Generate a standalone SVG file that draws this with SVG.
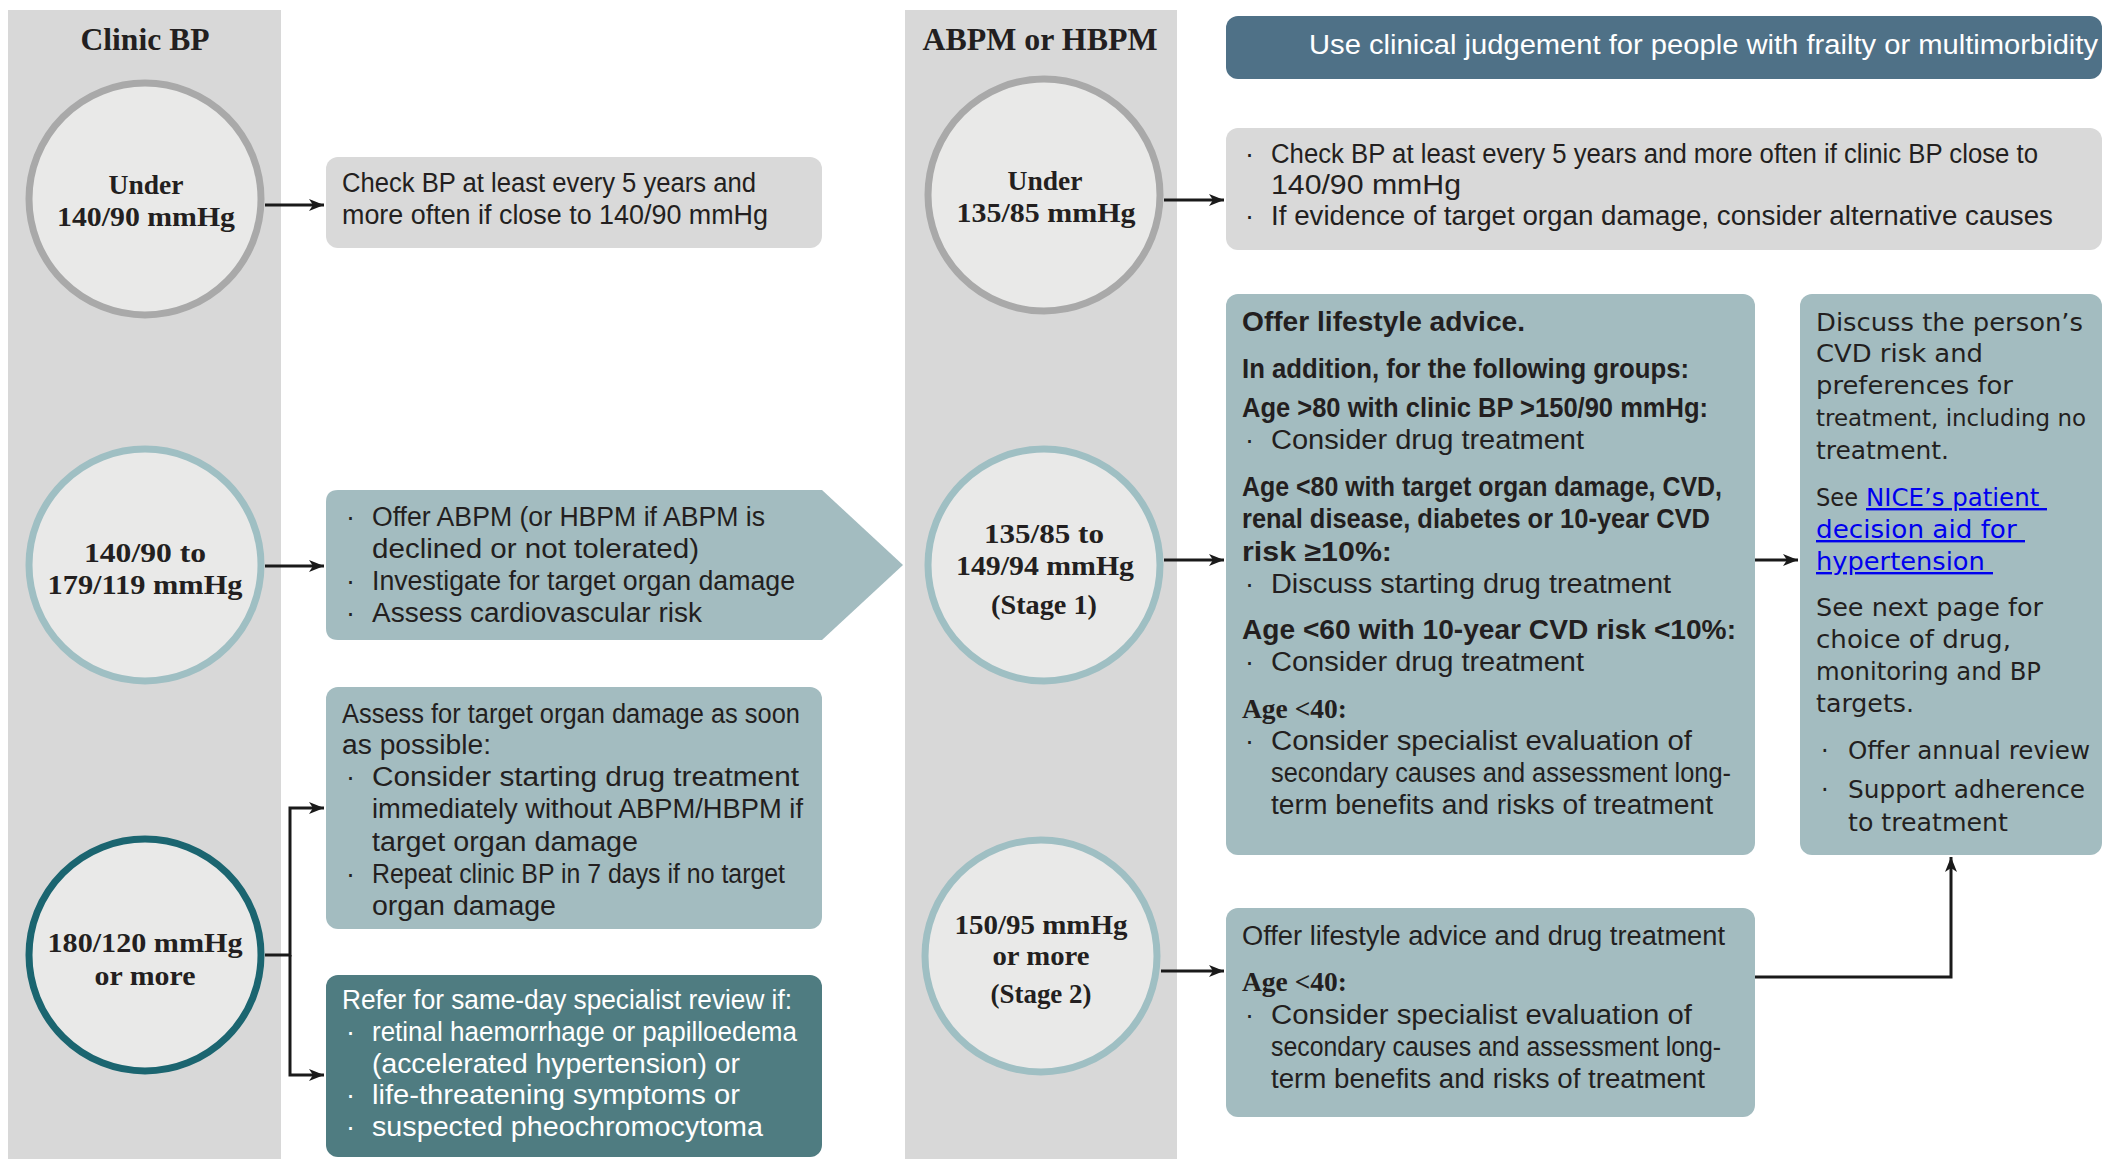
<svg xmlns="http://www.w3.org/2000/svg" width="2105" height="1159" viewBox="0 0 2105 1159">
<style>
.band{fill:#d8d8d8}
.cf{fill:#e9e9e8;stroke-width:7}
.cg{stroke:#a9a9a9}
.ct{stroke:#9fbfc3}
.cd{stroke:#1b6570}
.bg{fill:#d9d9d9}
.bt{fill:#a3bcc0}
.bd{fill:#4f7c81}
.bs{fill:#4f7187}
text{fill:#231f20}
.t{font-family:"Liberation Sans",Arial,sans-serif;font-size:27px}
.b{font-weight:bold}
.s{font-family:"Liberation Serif","Times New Roman",serif;font-weight:bold;font-size:28px}
.h{font-family:"Liberation Serif","Times New Roman",serif;font-weight:bold;font-size:32px}
.a{font-family:"Liberation Serif","Times New Roman",serif;font-weight:bold;font-size:28px}
.g{font-family:"DejaVu Sans",Verdana,sans-serif;font-size:24px}
.gs{font-size:23px}
.w{fill:#ffffff}
.lk{fill:#0000ee;text-decoration:underline}
.cn{fill:none;stroke:#1a1a1a;stroke-width:3}
</style>
<defs>
<marker id="ah" markerWidth="15" markerHeight="12" refX="15" refY="6" orient="auto" markerUnits="userSpaceOnUse">
<path d="M0,0 L15,6 L0,12 L4,6 Z" fill="#1a1a1a"/>
</marker>
</defs>
<rect width="2105" height="1159" fill="#ffffff"/>
<g id="band-clinic">
<rect class="band" x="8" y="10" width="273" height="1149"/>
<text class="h" x="145" y="50" text-anchor="middle" textLength="129" lengthAdjust="spacingAndGlyphs">Clinic BP</text>
</g>
<g id="band-abpm">
<rect class="band" x="905" y="10" width="272" height="1149"/>
<text class="h" x="1040" y="50" text-anchor="middle" textLength="235" lengthAdjust="spacingAndGlyphs">ABPM or HBPM</text>
</g>
<g id="c1">
<circle class="cf cg" cx="145" cy="199" r="116"/>
<text class="s" x="146" y="194" text-anchor="middle" textLength="75" lengthAdjust="spacingAndGlyphs">Under</text>
<text class="s" x="146" y="226" text-anchor="middle" textLength="178" lengthAdjust="spacingAndGlyphs">140/90 mmHg</text>
</g>
<g id="c2">
<circle class="cf ct" cx="145" cy="565" r="116"/>
<text class="s" x="145" y="562" text-anchor="middle" textLength="122" lengthAdjust="spacingAndGlyphs">140/90 to</text>
<text class="s" x="145" y="594" text-anchor="middle" textLength="195" lengthAdjust="spacingAndGlyphs">179/119 mmHg</text>
</g>
<g id="c3">
<circle class="cf cd" cx="145" cy="955" r="116"/>
<text class="s" x="145" y="952" text-anchor="middle" textLength="195" lengthAdjust="spacingAndGlyphs">180/120 mmHg</text>
<text class="s" x="145" y="985" text-anchor="middle" textLength="101" lengthAdjust="spacingAndGlyphs">or more</text>
</g>
<g id="c4">
<circle class="cf cg" cx="1044" cy="195" r="116"/>
<text class="s" x="1045" y="190" text-anchor="middle" textLength="75" lengthAdjust="spacingAndGlyphs">Under</text>
<text class="s" x="1046" y="222" text-anchor="middle" textLength="179" lengthAdjust="spacingAndGlyphs">135/85 mmHg</text>
</g>
<g id="c5">
<circle class="cf ct" cx="1044" cy="565" r="116"/>
<text class="s" x="1044" y="543" text-anchor="middle" textLength="120" lengthAdjust="spacingAndGlyphs">135/85 to</text>
<text class="s" x="1045" y="575" text-anchor="middle" textLength="178" lengthAdjust="spacingAndGlyphs">149/94 mmHg</text>
<text class="s" x="1044" y="614" text-anchor="middle" textLength="106" lengthAdjust="spacingAndGlyphs">(Stage 1)</text>
</g>
<g id="c6">
<circle class="cf ct" cx="1041" cy="956" r="116"/>
<text class="s" x="1041" y="934" text-anchor="middle" textLength="173" lengthAdjust="spacingAndGlyphs">150/95 mmHg</text>
<text class="s" x="1041" y="965" text-anchor="middle" textLength="97" lengthAdjust="spacingAndGlyphs">or more</text>
<text class="s" x="1041" y="1003" text-anchor="middle" textLength="101" lengthAdjust="spacingAndGlyphs">(Stage 2)</text>
</g>
<g id="boxA">
<rect class="bg" x="326" y="157" width="496" height="91" rx="12"/>
<text class="t" x="342" y="192" textLength="414" lengthAdjust="spacingAndGlyphs">Check BP at least every 5 years and</text>
<text class="t" x="342" y="224" textLength="426" lengthAdjust="spacingAndGlyphs">more often if close to 140/90 mmHg</text>
</g>
<g id="boxB">
<path class="bt" d="M338,490 H822 L903,565 L822,640 H338 Q326,640 326,628 V502 Q326,490 338,490 Z"/>
<text class="t" x="346" y="526">·</text>
<text class="t" x="372" y="526" textLength="393" lengthAdjust="spacingAndGlyphs">Offer ABPM (or HBPM if ABPM is</text>
<text class="t" x="372" y="558" textLength="327" lengthAdjust="spacingAndGlyphs">declined or not tolerated)</text>
<text class="t" x="346" y="590">·</text>
<text class="t" x="372" y="590" textLength="423" lengthAdjust="spacingAndGlyphs">Investigate for target organ damage</text>
<text class="t" x="346" y="622">·</text>
<text class="t" x="372" y="622" textLength="330" lengthAdjust="spacingAndGlyphs">Assess cardiovascular risk</text>
</g>
<g id="boxC">
<rect class="bt" x="326" y="687" width="496" height="242" rx="12"/>
<text class="t" x="342" y="723" textLength="458" lengthAdjust="spacingAndGlyphs">Assess for target organ damage as soon</text>
<text class="t" x="342" y="754" textLength="149" lengthAdjust="spacingAndGlyphs">as possible:</text>
<text class="t" x="346" y="786">·</text>
<text class="t" x="372" y="786" textLength="427" lengthAdjust="spacingAndGlyphs">Consider starting drug treatment</text>
<text class="t" x="372" y="818" textLength="431" lengthAdjust="spacingAndGlyphs">immediately without ABPM/HBPM if</text>
<text class="t" x="372" y="851" textLength="266" lengthAdjust="spacingAndGlyphs">target organ damage</text>
<text class="t" x="346" y="883">·</text>
<text class="t" x="372" y="883" textLength="413" lengthAdjust="spacingAndGlyphs">Repeat clinic BP in 7 days if no target</text>
<text class="t" x="372" y="915" textLength="184" lengthAdjust="spacingAndGlyphs">organ damage</text>
</g>
<g id="boxD">
<rect class="bd" x="326" y="975" width="496" height="182" rx="12"/>
<text class="t w" x="342" y="1009" textLength="450" lengthAdjust="spacingAndGlyphs">Refer for same-day specialist review if:</text>
<text class="t w" x="346" y="1041">·</text>
<text class="t w" x="372" y="1041" textLength="425" lengthAdjust="spacingAndGlyphs">retinal haemorrhage or papilloedema</text>
<text class="t w" x="372" y="1073" textLength="368" lengthAdjust="spacingAndGlyphs">(accelerated hypertension) or</text>
<text class="t w" x="346" y="1104">·</text>
<text class="t w" x="372" y="1104" textLength="368" lengthAdjust="spacingAndGlyphs">life-threatening symptoms or</text>
<text class="t w" x="346" y="1136">·</text>
<text class="t w" x="372" y="1136" textLength="391" lengthAdjust="spacingAndGlyphs">suspected pheochromocytoma</text>
</g>
<g id="banner">
<rect class="bs" x="1226" y="16" width="876" height="63" rx="12"/>
<text class="t w" x="1309" y="54" textLength="789" lengthAdjust="spacingAndGlyphs">Use clinical judgement for people with frailty or multimorbidity</text>
</g>
<g id="boxE">
<rect class="bg" x="1226" y="128" width="876" height="122" rx="12"/>
<text class="t" x="1245" y="163">·</text>
<text class="t" x="1271" y="163" textLength="767" lengthAdjust="spacingAndGlyphs">Check BP at least every 5 years and more often if clinic BP close to</text>
<text class="t" x="1271" y="194" textLength="190" lengthAdjust="spacingAndGlyphs">140/90 mmHg</text>
<text class="t" x="1245" y="225">·</text>
<text class="t" x="1271" y="225" textLength="782" lengthAdjust="spacingAndGlyphs">If evidence of target organ damage, consider alternative causes</text>
</g>
<g id="boxF">
<rect class="bt" x="1226" y="294" width="529" height="561" rx="12"/>
<text class="t b" x="1242" y="331" textLength="283" lengthAdjust="spacingAndGlyphs">Offer lifestyle advice.</text>
<text class="t b" x="1242" y="378" textLength="447" lengthAdjust="spacingAndGlyphs">In addition, for the following groups:</text>
<text class="t b" x="1242" y="417" textLength="466" lengthAdjust="spacingAndGlyphs">Age &gt;80 with clinic BP &gt;150/90 mmHg:</text>
<text class="t" x="1245" y="449">·</text>
<text class="t" x="1271" y="449" textLength="313" lengthAdjust="spacingAndGlyphs">Consider drug treatment</text>
<text class="t b" x="1242" y="496" textLength="480" lengthAdjust="spacingAndGlyphs">Age &lt;80 with target organ damage, CVD,</text>
<text class="t b" x="1242" y="528" textLength="468" lengthAdjust="spacingAndGlyphs">renal disease, diabetes or 10-year CVD</text>
<text class="t b" x="1242" y="561" textLength="150" lengthAdjust="spacingAndGlyphs">risk ≥10%:</text>
<text class="t" x="1245" y="593">·</text>
<text class="t" x="1271" y="593" textLength="400" lengthAdjust="spacingAndGlyphs">Discuss starting drug treatment</text>
<text class="t b" x="1242" y="639" textLength="494" lengthAdjust="spacingAndGlyphs">Age &lt;60 with 10-year CVD risk &lt;10%:</text>
<text class="t" x="1245" y="671">·</text>
<text class="t" x="1271" y="671" textLength="313" lengthAdjust="spacingAndGlyphs">Consider drug treatment</text>
<text class="a" x="1242" y="718" textLength="105" lengthAdjust="spacingAndGlyphs">Age &lt;40:</text>
<text class="t" x="1245" y="750">·</text>
<text class="t" x="1271" y="750" textLength="421" lengthAdjust="spacingAndGlyphs">Consider specialist evaluation of</text>
<text class="t" x="1271" y="782" textLength="460" lengthAdjust="spacingAndGlyphs">secondary causes and assessment long-</text>
<text class="t" x="1271" y="814" textLength="442" lengthAdjust="spacingAndGlyphs">term benefits and risks of treatment</text>
</g>
<g id="boxG">
<rect class="bt" x="1800" y="294" width="302" height="561" rx="12"/>
<text class="g" x="1816" y="331" textLength="267" lengthAdjust="spacingAndGlyphs">Discuss the person’s</text>
<text class="g" x="1816" y="362" textLength="167" lengthAdjust="spacingAndGlyphs">CVD risk and</text>
<text class="g" x="1816" y="394" textLength="197" lengthAdjust="spacingAndGlyphs">preferences for</text>
<text class="g gs" x="1816" y="426" textLength="270" lengthAdjust="spacingAndGlyphs">treatment, including no</text>
<text class="g" x="1816" y="459" textLength="133" lengthAdjust="spacingAndGlyphs">treatment.</text>
<text class="g" x="1816" y="506" textLength="42" lengthAdjust="spacingAndGlyphs">See</text>
<text class="g lk" x="1866" y="506" textLength="181" lengthAdjust="spacingAndGlyphs">NICE’s patient&#160;</text>
<text class="g lk" x="1816" y="538" textLength="209" lengthAdjust="spacingAndGlyphs">decision aid for&#160;</text>
<text class="g lk" x="1816" y="570" textLength="177" lengthAdjust="spacingAndGlyphs">hypertension&#160;</text>
<text class="g" x="1816" y="616" textLength="227" lengthAdjust="spacingAndGlyphs">See next page for</text>
<text class="g" x="1816" y="648" textLength="195" lengthAdjust="spacingAndGlyphs">choice of drug,</text>
<text class="g" x="1816" y="680" textLength="225" lengthAdjust="spacingAndGlyphs">monitoring and BP</text>
<text class="g" x="1816" y="712" textLength="98" lengthAdjust="spacingAndGlyphs">targets.</text>
<text class="g" x="1821" y="759">·</text>
<text class="g" x="1848" y="759" textLength="242" lengthAdjust="spacingAndGlyphs">Offer annual review</text>
<text class="g" x="1821" y="798">·</text>
<text class="g" x="1848" y="798" textLength="237" lengthAdjust="spacingAndGlyphs">Support adherence</text>
<text class="g" x="1848" y="831" textLength="160" lengthAdjust="spacingAndGlyphs">to treatment</text>
</g>
<g id="boxH">
<rect class="bt" x="1226" y="908" width="529" height="209" rx="12"/>
<text class="t" x="1242" y="945" textLength="483" lengthAdjust="spacingAndGlyphs">Offer lifestyle advice and drug treatment</text>
<text class="a" x="1242" y="991" textLength="105" lengthAdjust="spacingAndGlyphs">Age &lt;40:</text>
<text class="t" x="1245" y="1024">·</text>
<text class="t" x="1271" y="1024" textLength="421" lengthAdjust="spacingAndGlyphs">Consider specialist evaluation of</text>
<text class="t" x="1271" y="1056" textLength="450" lengthAdjust="spacingAndGlyphs">secondary causes and assessment long-</text>
<text class="t" x="1271" y="1088" textLength="434" lengthAdjust="spacingAndGlyphs">term benefits and risks of treatment</text>
</g>
<g id="connectors">
<path class="cn" d="M265,205 H324" marker-end="url(#ah)"/>
<path class="cn" d="M265,566 H324" marker-end="url(#ah)"/>
<path class="cn" d="M265,955 H290 V808 H324" marker-end="url(#ah)"/>
<path class="cn" d="M290,955 V1075 H324" marker-end="url(#ah)"/>
<path class="cn" d="M1164,200 H1224" marker-end="url(#ah)"/>
<path class="cn" d="M1164,560 H1224" marker-end="url(#ah)"/>
<path class="cn" d="M1755,560 H1798" marker-end="url(#ah)"/>
<path class="cn" d="M1161,971 H1224" marker-end="url(#ah)"/>
<path class="cn" d="M1755,977 H1951 V857" marker-end="url(#ah)"/>
</g>
</svg>
